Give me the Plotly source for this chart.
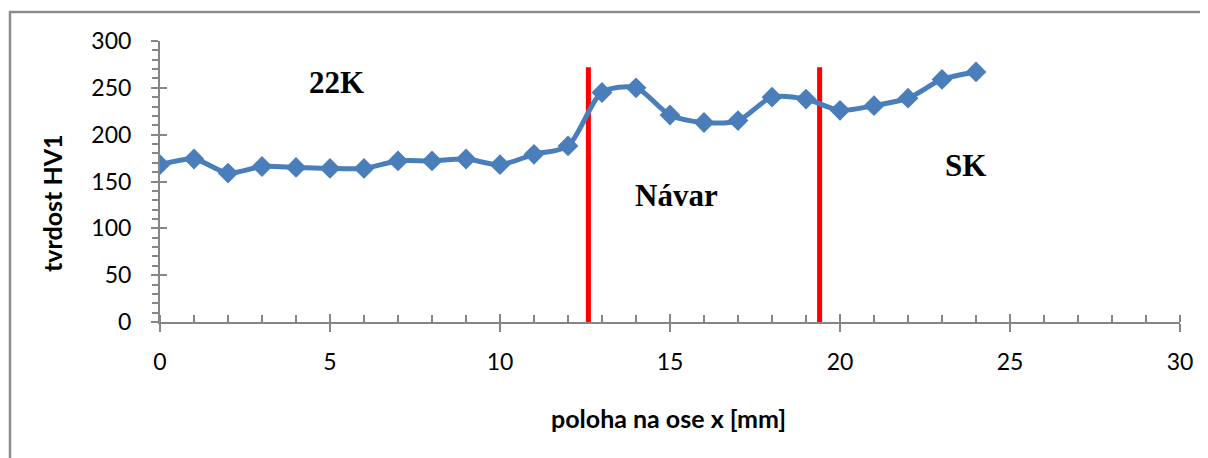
import plotly.graph_objects as go

# Data
position_mm = list(range(0, 25))
hardness_hv1 = [168, 174, 159, 166, 165, 164, 164, 172, 172, 174, 168, 179, 188,
                245, 250, 221, 213, 215, 240, 238, 226, 231, 239, 259, 267]
boundary_x = [12.6, 19.4]
boundary_top = 272
zone_labels = ["22K", "Návar", "SK"]
zone_label_x = [5.2, 15.2, 23.7]
zone_label_y = [256, 135, 167]

x_ticks = [0, 5, 10, 15, 20, 25, 30]
y_ticks = [0, 50, 100, 150, 200, 250, 300]

AX = "#868686"
TICKFONT = dict(family="Lato, Open Sans, sans-serif", size=23, color="black")

# page body has an 8px margin; compensate so the plot area lands where the reference has it
OFF = 8
L, T, W, H = 160 - OFF, 41 - OFF, 1020, 281

fig = go.Figure()

for bx in boundary_x:
    fig.add_trace(go.Scatter(x=[bx, bx], y=[0, boundary_top], mode="lines",
                             line=dict(color="#FF0000", width=5),
                             showlegend=False, hoverinfo="skip"))

fig.add_trace(go.Scatter(
    x=position_mm, y=hardness_hv1, mode="lines+markers",
    line=dict(color="#4A7EBB", width=5, shape="spline", smoothing=0.8),
    marker=dict(symbol="diamond", size=16, color="#4A7EBB"),
    showlegend=False))

for t, xx, yy in zip(zone_labels, zone_label_x, zone_label_y):
    fig.add_annotation(x=xx, y=yy, xref="x", yref="y", text=f"<b>{t}</b>",
                       showarrow=False,
                       font=dict(family="Liberation Serif, Times New Roman, serif",
                                 size=31, color="black"))

fig.update_layout(
    width=1208, height=458,
    margin=dict(l=L, r=1208 - L - W, t=T, b=458 - T - H),
    paper_bgcolor="white", plot_bgcolor="white",
    xaxis=dict(range=[0, 30], tickvals=x_ticks, ticks="outside", ticklen=8,
               tickwidth=2, tickcolor=AX, showline=True, linecolor=AX, linewidth=2,
               showgrid=False, zeroline=False, tickfont=TICKFONT,
               ticklabelstandoff=10,
               minor=dict(dtick=1, ticks="inside", ticklen=7, tickwidth=1.5,
                          tickcolor=AX, showgrid=False)),
    yaxis=dict(range=[0, 300], tickvals=y_ticks, ticks="outside", ticklen=7,
               tickwidth=2, tickcolor=AX, showline=True, linecolor=AX, linewidth=2,
               showgrid=False, zeroline=False, tickfont=TICKFONT,
               ticklabelstandoff=15,
               minor=dict(dtick=10, ticks="outside", ticklen=6, tickwidth=1.5,
                          tickcolor=AX, showgrid=False)),
    xaxis2=dict(range=[0, 30], tickvals=x_ticks, ticks="inside", ticklen=8,
                tickwidth=2, tickcolor=AX, showticklabels=False, overlaying="x",
                anchor="y", showgrid=False, zeroline=False, showline=False),
    yaxis2=dict(range=[0, 300], tickvals=y_ticks, ticks="inside", ticklen=7,
                tickwidth=2, tickcolor=AX, showticklabels=False, overlaying="y",
                anchor="x", side="left", showgrid=False, zeroline=False,
                showline=False),
)

# dummy trace to activate overlay axes
fig.add_trace(go.Scatter(x=[None], y=[None], xaxis="x2", yaxis="y2",
                         showlegend=False, hoverinfo="skip"))


def px(x):
    return (x - 160) / W


def py(y):
    return (322 - y) / H


# axis titles
fig.add_annotation(x=px(52), y=py(203), xref="paper", yref="paper",
                   xanchor="center", yanchor="middle",
                   text="<b>tvrdost HV1</b>", textangle=-90, showarrow=False,
                   font=dict(family="Lato, Open Sans, sans-serif", size=25, color="black"))
fig.add_annotation(x=px(668), y=py(418), xref="paper", yref="paper",
                   xanchor="center", yanchor="middle",
                   text="<b>poloha na ose x [mm]</b>", showarrow=False,
                   font=dict(family="Lato, Open Sans, sans-serif", size=25, color="black"))

# outer frame (left and top edges visible)
fig.add_shape(type="path", xref="paper", yref="paper",
              path=f"M {px(10)} {py(470)} L {px(10)} {py(12)} L {px(1215)} {py(12)}",
              line=dict(color="#8C8C8C", width=2.5), layer="above")

fig.write_html("out.html")
